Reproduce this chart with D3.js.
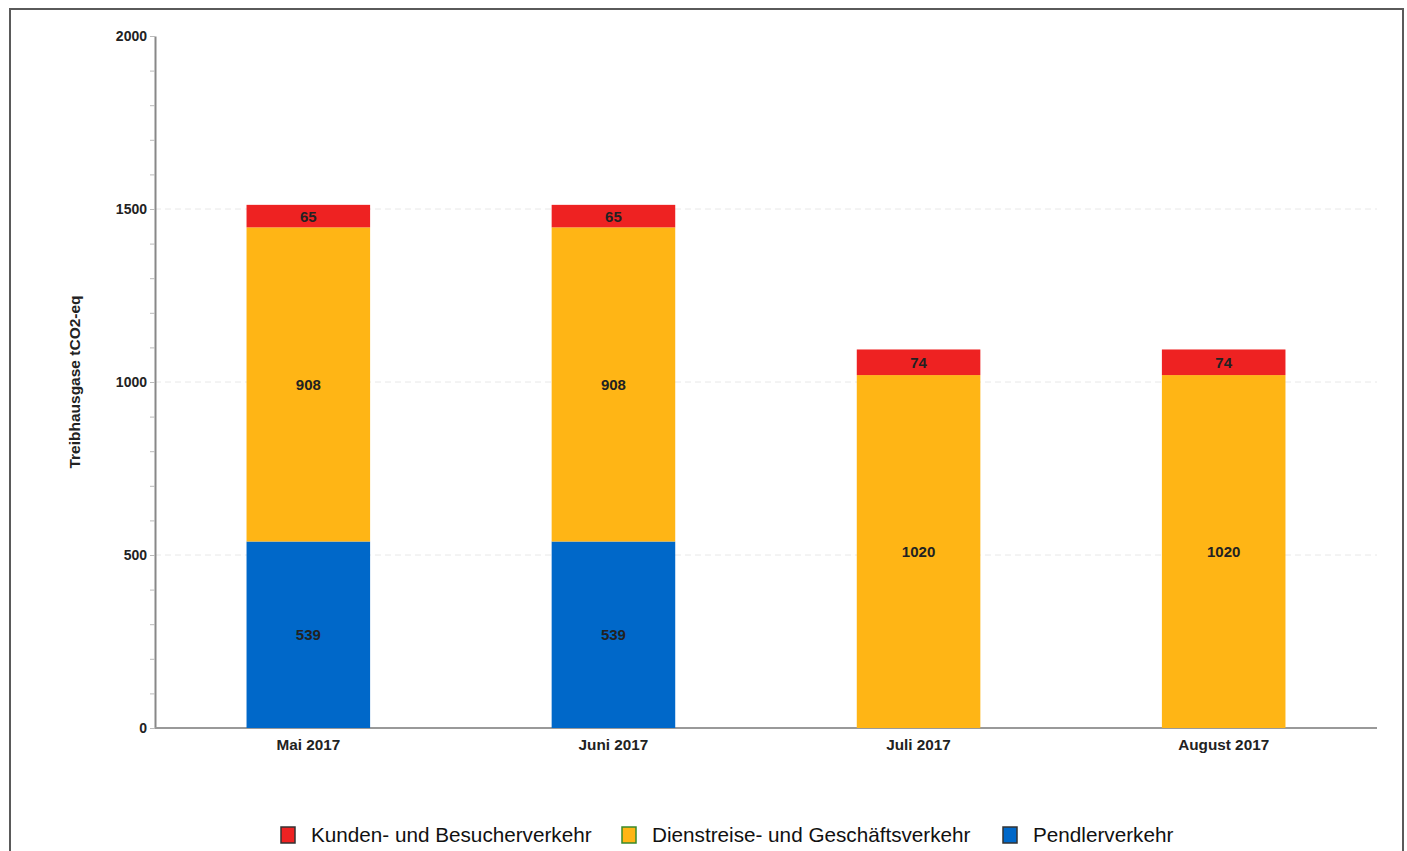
<!DOCTYPE html>
<html>
<head>
<meta charset="utf-8">
<script src="https://cdn.jsdelivr.net/npm/d3@7"></script>
<style>
	body { margin: 0; background: #fff; font-family: "Liberation Sans", Arial, sans-serif; }
	svg { display: block; }
</style>
</head>
<body>
<div id="chart"></div>
<script>
// data
var months = ["Mai 2017", "Juni 2017", "Juli 2017", "August 2017"];
var pendler = [539, 539, 0, 0];
var dienst = [908, 908, 1020, 1020];
var kunden = [65, 65, 74, 74];
var seriesNames = ["Pendlerverkehr", "Dienstreise- und Geschäftsverkehr", "Kunden- und Besucherverkehr"];
var seriesColors = ["#0068c9", "#ffb515", "#ee2222"];
var yTicks = [0, 500, 1000, 1500, 2000];
var legendOrder = [2, 1, 0];

var W = 1407, H = 851;
var pLeft = 155, pRight = 1377, pTop = 36, pBottom = 728;

var svg = d3.select("#chart").append("svg")
	.attr("width", W)
	.attr("height", H);

// frame round the whole chart
svg.append("rect")
	.attr("x", 10).attr("y", 9)
	.attr("width", 1393).attr("height", 860)
	.attr("fill", "#fff")
	.attr("stroke", "#5a5a5a")
	.attr("stroke-width", 2);

var x = d3.scaleBand().domain(months).range([pLeft, pRight]).paddingInner(0.595).paddingOuter(0.3);
var y = d3.scaleLinear().domain([0, 2000]).range([pBottom, pTop]);

// table for the stack
var table = months.map(function (m, i) {
	return { month: m, s0: pendler[i], s1: dienst[i], s2: kunden[i] };
});
var stack = d3.stack().keys(["s0", "s1", "s2"])(table);

// grid lines
svg.append("g").selectAll("line").data(yTicks.filter(function (d) { return d > 0 && d < 2000; }))
	.enter().append("line")
	.attr("x1", pLeft).attr("x2", pRight)
	.attr("y1", function (d) { return y(d); })
	.attr("y2", function (d) { return y(d); })
	.attr("stroke", "#e8e8e8")
	.attr("stroke-dasharray", "6,4");

// y axis with minor ticks
var yAxis = svg.append("g")
	.attr("transform", "translate(" + pLeft + ",0)")
	.call(d3.axisLeft(y).tickValues(d3.range(0, 2001, 100)).tickSize(5).tickSizeOuter(0).tickFormat(function (d) {
		return yTicks.indexOf(d) > -1 ? d : "";
	}));
yAxis.select(".domain").attr("stroke", "#888").attr("stroke-width", 2);
yAxis.selectAll(".tick line").attr("stroke", "#bbb");
yAxis.selectAll(".tick text")
	.attr("font-size", 14).attr("font-weight", "bold").attr("fill", "#222")
	.attr("x", -8);

// x baseline
svg.append("line")
	.attr("x1", pLeft).attr("x2", pRight)
	.attr("y1", pBottom).attr("y2", pBottom)
	.attr("stroke", "#999").attr("stroke-width", 2);

// bars
var layers = svg.append("g").selectAll("g").data(stack)
	.enter().append("g")
	.attr("fill", function (d, i) { return seriesColors[i]; });

layers.selectAll("rect").data(function (d) { return d; })
	.enter().append("rect")
	.attr("x", function (d) { return x(d.data.month); })
	.attr("width", x.bandwidth())
	.attr("y", function (d) { return y(d[1]); })
	.attr("height", function (d) { return y(d[0]) - y(d[1]); });

layers.selectAll("text").data(function (d) { return d.filter(function (e) { return e[1] - e[0] > 0; }); })
	.enter().append("text")
	.attr("text-anchor", "middle")
	.attr("dominant-baseline", "central")
	.attr("x", function (d) { return x(d.data.month) + x.bandwidth() / 2; })
	.attr("y", function (d) { return y((d[0] + d[1]) / 2); })
	.attr("font-size", 15).attr("font-weight", "bold").attr("fill", "#222")
	.text(function (d) { return d[1] - d[0]; });

// month labels
svg.append("g").selectAll("text").data(months)
	.enter().append("text")
	.attr("text-anchor", "middle")
	.attr("x", function (d) { return x(d) + x.bandwidth() / 2; })
	.attr("y", 750)
	.attr("font-size", 15.3).attr("font-weight", "bold").attr("fill", "#222")
	.text(function (d) { return d; });

// y title
svg.append("text")
	.attr("transform", "translate(80," + ((pTop + pBottom) / 2) + ") rotate(-90)")
	.attr("text-anchor", "middle")
	.attr("font-size", 15.5).attr("font-weight", "bold").attr("fill", "#222")
	.text("Treibhausgase tCO2-eq");

// legend
var legendX = [281, 622, 1003];
var legend = svg.append("g").selectAll("g").data(legendOrder)
	.enter().append("g")
	.attr("transform", function (d, i) { return "translate(" + legendX[i] + ",827)"; });
legend.append("rect")
	.attr("width", 14).attr("height", 16)
	.attr("fill", function (d) { return seriesColors[d]; })
	.attr("stroke", function (d) { return d == 1 ? "#3a8a2a" : "#333"; })
	.attr("stroke-width", 1.5);
legend.append("text")
	.attr("x", 30).attr("y", 15)
	.attr("font-size", 20.7).attr("fill", "#111")
	.text(function (d) { return seriesNames[d]; });
</script>
</body>
</html>
